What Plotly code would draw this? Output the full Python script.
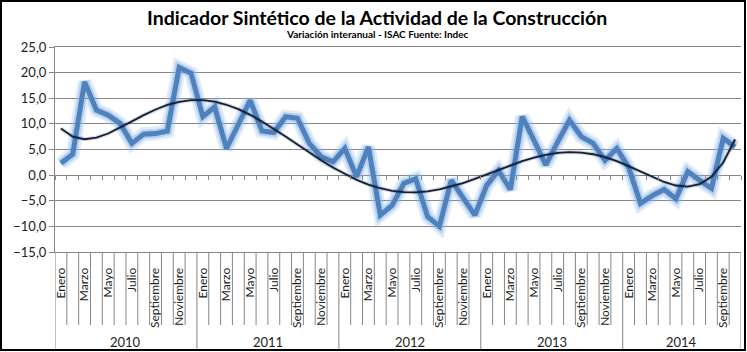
import numpy as np
import plotly.graph_objects as go

years = ["2010", "2011", "2012", "2013", "2014"]
months = ["Enero", "Febrero", "Marzo", "Abril", "Mayo", "Junio", "Julio",
          "Agosto", "Septiembre", "Octubre", "Noviembre", "Diciembre"]
months_per_year = [12, 12, 12, 12, 10]

isac_2010 = [2.3, 4.1, 18.2, 12.7, 11.7, 10.1, 6.2, 8.0, 8.1, 8.6, 21.0, 19.9]
isac_2011 = [11.4, 13.3, 5.2, 9.9, 14.6, 8.6, 8.3, 11.4, 11.1, 6.2, 3.6, 2.6]
isac_2012 = [5.2, -0.3, 5.5, -7.8, -5.9, -1.6, -0.7, -8.1, -10.0, -1.0, -4.2, -7.8]
isac_2013 = [-2.0, 0.9, -2.8, 11.4, 6.8, 2.0, 6.5, 10.7, 7.5, 6.2, 2.9, 5.2]
isac_2014 = [1.5, -5.5, -4.0, -2.8, -4.6, 0.7, -1.0, -2.6, 7.2, 5.5]

values = isac_2010 + isac_2011 + isac_2012 + isac_2013 + isac_2014
labels = []
for y, n in zip(years, months_per_year):
    labels += [months[m] for m in range(n)]
n = len(values)
xi = np.arange(n)

# polynomial trend (order 6), as the spreadsheet trendline
coef = np.polyfit(xi, values, 6)
trend = np.polyval(coef, xi)

W, H = 747, 352
L, R, T, B = 55, 6, 47, 100
pw, ph = W - L - R, H - T - B

def py(p):  # pixel y -> paper y
    return (H - B - p) / ph

def px(p):
    return (p - L) / pw

GRID = "#868686"
FONT = "Lato"

fig = go.Figure()
fig.add_trace(go.Scatter(x=xi, y=values, mode="lines",
                         line=dict(color="rgba(150,188,235,0.30)", width=14),
                         hoverinfo="skip", showlegend=False))
fig.add_trace(go.Scatter(x=xi, y=values, mode="lines",
                         line=dict(color="rgba(120,168,225,0.40)", width=9),
                         hoverinfo="skip", showlegend=False))
fig.add_trace(go.Scatter(x=xi, y=values, mode="lines",
                         line=dict(color="#4f81bd", width=5),
                         showlegend=False))
fig.add_trace(go.Scatter(x=xi, y=trend, mode="lines",
                         line=dict(color="rgba(0,0,0,0.15)", width=4),
                         hoverinfo="skip", showlegend=False))
fig.add_trace(go.Scatter(x=xi, y=trend, mode="lines",
                         line=dict(color="#10203c", width=1.8),
                         showlegend=False))

shapes = []
# month dividers in label area
bounds = np.cumsum([0] + months_per_year)
for i in range(1, n):
    if i in bounds:
        continue
    shapes.append(dict(type="line", xref="x", yref="paper", x0=i - 0.5, x1=i - 0.5,
                       y0=0, y1=py(325), line=dict(color=GRID, width=1)))
for b in bounds:
    shapes.append(dict(type="line", xref="x", yref="paper", x0=b - 0.5, x1=b - 0.5,
                       y0=0, y1=py(350), line=dict(color=GRID, width=1)))
# outer frame
shapes.append(dict(type="rect", xref="paper", yref="paper",
                   x0=px(1), x1=px(745), y0=py(1), y1=py(350),
                   line=dict(color="black", width=2)))

annotations = []
for k, (y, nm) in enumerate(zip(years, months_per_year)):
    annotations.append(dict(x=bounds[k] + (nm - 1) / 2, y=py(342), xref="x", yref="paper",
                            text=y, showarrow=False, font=dict(size=13, color="#222", family=FONT),
                            xanchor="center", yanchor="middle"))
annotations.append(dict(x=px(377), y=py(17), xref="paper", yref="paper",
                        text="<b>Indicador Sintético de la Actividad de la Construcción</b>",
                        showarrow=False, font=dict(size=19.5, color="black", family=FONT),
                        xanchor="center", yanchor="middle"))
annotations.append(dict(x=px(377), y=py(34), xref="paper", yref="paper",
                        text="<b>Variación interanual - ISAC Fuente: Indec</b>",
                        showarrow=False, font=dict(size=10, color="black", family=FONT),
                        xanchor="center", yanchor="middle"))

fig.update_layout(
    width=W, height=H, margin=dict(l=L, r=R, t=T, b=B),
    paper_bgcolor="white", plot_bgcolor="white",
    separators=",.",
    font=dict(family=FONT, color="#222"),
    shapes=shapes, annotations=annotations,
    xaxis=dict(range=[-0.5, n - 0.5], tickmode="array",
               tickvals=[i for i in range(n) if i % 2 == 0],
               ticktext=[labels[i] for i in range(n) if i % 2 == 0],
               tickangle=-90, ticks="", showgrid=False, zeroline=False,
               showline=True, mirror=True, linecolor=GRID, linewidth=1,
               tickfont=dict(size=12, color="#222", family=FONT),
               ticklabelstandoff=10),
    xaxis2=dict(overlaying="x", anchor="free", position=15 / 40,
                range=[-0.5, n - 0.5], tickmode="array",
                tickvals=[i - 0.5 for i in range(n + 1)],
                ticks="outside", ticklen=4, tickcolor=GRID,
                showticklabels=False, showgrid=False, zeroline=False, showline=False),
    yaxis=dict(range=[-15, 25], dtick=5, tick0=0, tickformat=".1f",
               showgrid=True, gridcolor=GRID, gridwidth=1,
               zeroline=True, zerolinecolor=GRID, zerolinewidth=1,
               showline=True, linecolor=GRID, linewidth=1,
               ticks="outside", ticklen=5, tickcolor=GRID,
               tickfont=dict(size=13, color="#222", family=FONT)),
)
fig.add_trace(go.Scatter(x=[0], y=[0], xaxis="x2", mode="markers",
                         marker=dict(opacity=0), hoverinfo="skip", showlegend=False))

fig.write_html("out.html")
